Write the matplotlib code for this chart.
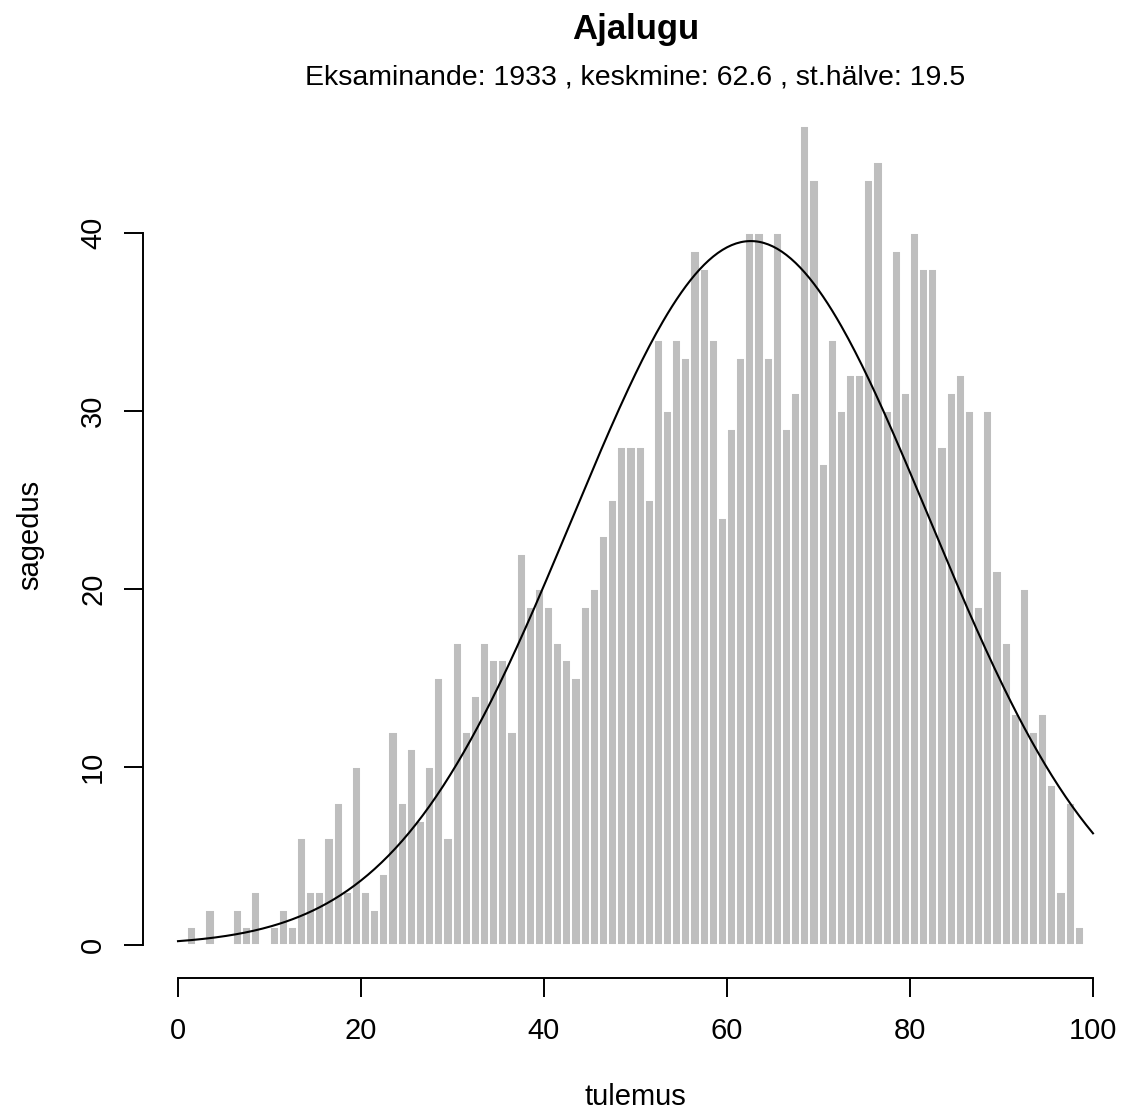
import numpy as np
import matplotlib
matplotlib.use("Agg")
import matplotlib.pyplot as plt

plt.rcParams['font.family'] = ['Liberation Sans', 'DejaVu Sans']

# Histogram counts for scores (bins [k, k+1), k = 0..99)
bin_left = list(range(0, 100))
counts = [0, 1, 0, 2, 0, 0, 2, 1, 3, 0,
          1, 2, 1, 6, 3, 3, 6, 8, 3, 10,
          3, 2, 4, 12, 8, 11, 7, 10, 15, 6,
          17, 12, 14, 17, 16, 16, 12, 22, 19, 20,
          19, 17, 16, 15, 19, 20, 23, 25, 28, 28,
          28, 25, 34, 30, 34, 33, 39, 38, 34, 24,
          29, 33, 40, 40, 33, 40, 29, 31, 46, 43,
          27, 34, 30, 32, 32, 43, 44, 30, 39, 31,
          40, 38, 38, 28, 31, 32, 30, 19, 30, 21,
          17, 13, 20, 12, 13, 9, 3, 8, 1, 0]

n_exam = 1933
mean_score = 62.6
sd_score = 19.5

title = "Ajalugu"
subtitle = "Eksaminande: 1933 , keskmine: 62.6 , st.hälve: 19.5"
xlabel = "tulemus"
ylabel = "sagedus"
xticks = [0, 20, 40, 60, 80, 100]
yticks = [0, 10, 20, 30, 40]

W, H = 1122, 1112
fig = plt.figure(figsize=(W / 100, H / 100), dpi=100)

# plot region in pixels (R-style 4% extension)
px_left, px_right = 141.4, 1129.6
px_top, px_bottom = 93.4, 978.0
ax = fig.add_axes([px_left / W, 1 - px_bottom / H,
                   (px_right - px_left) / W, (px_bottom - px_top) / H])
ax.set_xlim(-4, 104)
ax.set_ylim(-1.84, 47.84)

ax.bar(bin_left, counts, width=1.0, align='edge', color='#BEBEBE',
       edgecolor='white', linewidth=1.4)

xs = np.linspace(0, 100, 401)
ys = n_exam * np.exp(-0.5 * ((xs - mean_score) / sd_score) ** 2) / (sd_score * np.sqrt(2 * np.pi))
ax.plot(xs, ys, color='black', linewidth=1.5)

for s in ['top', 'right']:
    ax.spines[s].set_visible(False)
ax.spines['bottom'].set_bounds(0, 100)
ax.spines['left'].set_bounds(0, 40)
ax.spines['left'].set_position(('data', -3.8))
for s in ['bottom', 'left']:
    ax.spines[s].set_linewidth(1.4)

ax.set_xticks(xticks)
ax.set_yticks(yticks)
ax.set_xticklabels([str(t) for t in xticks])
ax.set_yticklabels([str(t) for t in yticks], rotation=90, va='center')
ax.tick_params(axis='both', length=14, width=1.4, labelsize=21)
ax.tick_params(axis='x', pad=14)
ax.tick_params(axis='y', pad=12)

fig.text((px_left + px_right) / 2 / W, 1 - 30 / H, title, ha='center', va='center',
         fontsize=25, fontweight='bold')
fig.text((px_left + px_right) / 2 / W, 1 - 78 / H, subtitle, ha='center', va='center',
         fontsize=20.5)
fig.text((px_left + px_right) / 2 / W, 1 - 1097 / H, xlabel, ha='center', va='center',
         fontsize=21)
fig.text(30 / W, 1 - 535 / H, ylabel, ha='center', va='center', rotation=90,
         fontsize=21)

fig.savefig("out.png", dpi=100)
